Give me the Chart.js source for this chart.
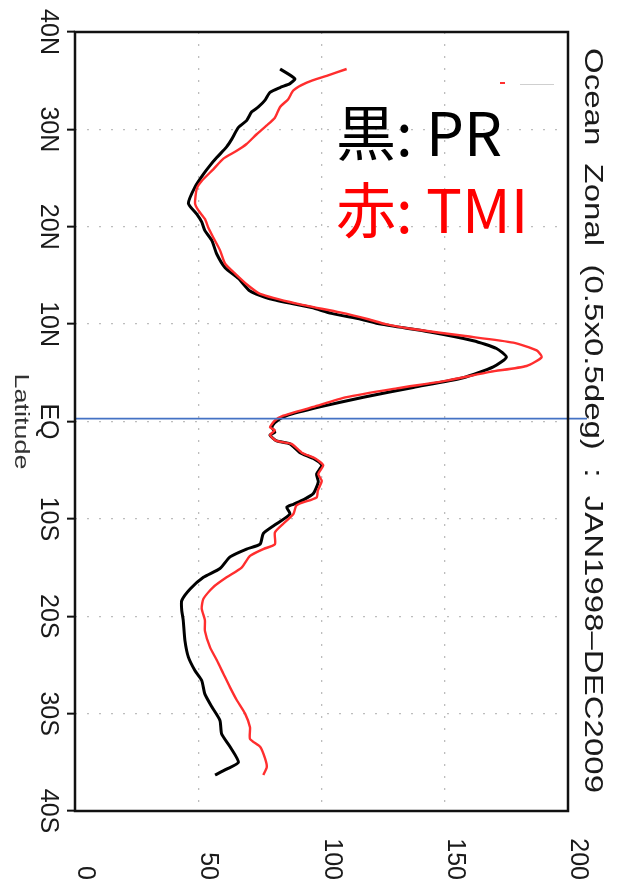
<!DOCTYPE html>
<html>
<head>
<meta charset="utf-8">
<title>Ocean Zonal (0.5x0.5deg) : JAN1998-DEC2009</title>
<script src="https://cdn.jsdelivr.net/npm/chart.js@4.4.0/dist/chart.umd.min.js"></script>
<style>
  html, body { margin: 0; padding: 0; background: #fff; }
  #wrap { position: relative; width: 625px; height: 886px; }
</style>
</head>
<body>
<div id="wrap"><canvas id="c" width="625" height="886"></canvas></div>
<script>
// Latitude axis (vertical) and value axis (horizontal)
const latTicks = [40, 30, 20, 10, 0, -10, -20, -30, -40];
const latTickLabels = ['40N', '30N', '20N', '10N', 'EQ', '10S', '20S', '30S', '40S'];
const valueTicks = [0, 50, 100, 150, 200];
const valueTickLabels = ['0', '50', '100', '150', '200'];

// PR zonal mean (black)
const prLat = [36.2, 35.2, 34.7, 34.3, 33.8, 33.0, 32.3, 31.8, 30.9, 30.2, 29.0, 28.2, 27.1, 26.3, 25.4, 24.1, 22.4, 21.3, 20.5, 19.6,
  18.6, 17.2, 15.8, 14.7, 13.4, 12.6, 11.7, 11.1, 10.5, 10.0, 9.2, 8.3, 7.5, 6.6, 5.6, 4.5, 3.5, 2.5, 1.5, 0.6,
  -0.1, -0.6, -1.1, -1.4, -2.0, -2.3, -3.2, -3.8, -4.5, -5.4, -6.2, -7.4, -8.0, -8.5, -8.8, -9.5, -10.5, -11.5, -12.6, -13.1,
  -13.9, -15.1, -16.0, -17.2, -18.4, -19.4, -20.4, -22.5, -24.2, -25.6, -26.6, -28.0, -29.3, -30.7, -32.1, -33.4, -35.0, -35.7, -36.3];
const prVal = [83.2, 89.2, 87.2, 83.2, 79.1, 77.1, 74.4, 71.7, 69.6, 66.3, 63.6, 61.5, 57.5, 54.8, 52.1, 48.7, 46.0, 49.4, 51.4, 52.7,
  55.5, 57.5, 60.9, 66.3, 71.0, 79.0, 96.0, 104.0, 116.0, 124.0, 144.0, 161.6, 171.0, 175.0, 169.7, 157.5, 137.2, 117.0, 99.4, 85.9,
  81.1, 79.8, 81.1, 79.1, 81.8, 87.2, 91.3, 96.7, 100.1, 98.0, 98.7, 96.7, 93.0, 88.6, 85.9, 87.2, 81.8, 76.4, 75.1, 69.6,
  62.9, 58.8, 52.1, 46.7, 43.3, 43.3, 43.9, 44.6, 46.0, 48.7, 51.4, 52.7, 55.5, 58.8, 59.5, 62.9, 66.3, 61.5, 56.8];

// TMI zonal mean (red)
const tmiLat = [36.2, 35.5, 34.8, 34.0, 33.1, 32.3, 31.2, 30.4, 29.5, 28.5, 27.8, 27.0, 25.9, 24.7, 23.9, 22.4, 21.7, 20.8, 19.9, 18.9,
  17.6, 16.2, 15.2, 14.1, 13.1, 12.1, 11.2, 10.5, 10.0, 9.5, 8.8, 8.1, 7.3, 6.6, 5.7, 5.1, 4.2, 3.4, 2.5, 1.5,
  0.6, 0.1, -0.6, -0.9, -1.4, -2.0, -2.3, -3.2, -3.8, -4.5, -5.4, -6.1, -7.1, -7.8, -8.6, -9.5, -10.5, -11.4, -12.6, -13.1,
  -13.8, -15.0, -16.0, -17.0, -18.2, -19.2, -20.4, -21.5, -23.2, -24.5, -25.9, -27.3, -28.6, -30.0, -31.4, -32.6, -33.4, -34.6, -35.5, -36.3];
const tmiVal = [110.2, 102.1, 94.0, 88.6, 86.5, 83.2, 81.1, 77.8, 73.7, 69.6, 65.6, 60.2, 56.1, 51.4, 49.4, 48.7, 50.0, 52.7, 54.1, 56.1,
  58.8, 60.9, 64.9, 69.6, 75.1, 89.9, 107.5, 119.0, 126.0, 137.0, 157.5, 177.8, 187.3, 189.3, 183.2, 168.4, 150.8, 130.5, 110.2, 96.7,
  84.5, 81.1, 79.1, 81.1, 79.1, 81.8, 87.8, 92.0, 97.5, 100.7, 98.7, 100.1, 98.5, 98.0, 89.9, 88.6, 84.5, 81.1, 81.1, 76.4,
  71.0, 67.6, 61.5, 56.1, 52.1, 51.4, 52.7, 52.7, 54.8, 57.5, 60.2, 62.9, 65.6, 69.0, 71.0, 71.0, 75.1, 77.1, 77.8, 76.4];

const titleText = 'Ocean  Zonal  (0.5x0.5deg)  :  JAN1998\u2013DEC2009';
const latAxisTitle = 'Latitude';
const legendLines = [
  { text: '黒: PR', color: '#000000' },
  { text: '赤: TMI', color: '#ff0000' }
];
const equatorMarkLat = 0.3;

const toPoints = (lats, vals) => lats.map((lat, i) => ({ x: vals[i], y: lat }));

// Text rotated a quarter turn clockwise, baseline at screen x, running down the page
function drawRotated(ctx, text, x, y, align, font, color, lengthFit) {
  ctx.save();
  ctx.translate(x, y);
  ctx.rotate(Math.PI / 2);
  ctx.font = font;
  if (lengthFit) {
    const w = ctx.measureText(text).width;
    ctx.scale(lengthFit / w, 1);
  }
  ctx.fillStyle = color;
  ctx.textAlign = align;
  ctx.textBaseline = 'alphabetic';
  ctx.fillText(text, 0, 0);
  ctx.restore();
}

const decor = {
  id: 'decor',
  afterDatasetsDraw(chart) {
    const { ctx, chartArea: a, scales: { y } } = chart;
    // equator marker line
    const ey = y.getPixelForValue(equatorMarkLat);
    ctx.save();
    ctx.strokeStyle = '#4472c4';
    ctx.lineWidth = 1.6;
    ctx.beginPath();
    ctx.moveTo(a.left, ey);
    ctx.lineTo(a.right + 19, ey);
    ctx.stroke();
    ctx.restore();
  },
  afterDraw(chart) {
    const { ctx, chartArea: a, scales: { x, y } } = chart;
    // plot frame
    ctx.save();
    ctx.strokeStyle = '#111';
    ctx.lineWidth = 2.5;
    ctx.strokeRect(a.left, a.top, a.right - a.left, a.bottom - a.top);
    ctx.restore();

    const tickFont = '25px "Liberation Sans", Arial, sans-serif';
    latTicks.forEach((v, i) => {
      drawRotated(ctx, latTickLabels[i], a.left - 34, y.getPixelForValue(v), 'center', tickFont, '#1a1a1a');
    });
    valueTicks.forEach((v, i) => {
      drawRotated(ctx, valueTickLabels[i], x.getPixelForValue(v) + 3, a.bottom + 69, 'right', tickFont, '#1a1a1a');
    });
    drawRotated(ctx, latAxisTitle, a.left - 60, (a.top + a.bottom) / 2, 'center',
      '21px "Liberation Sans", Arial, sans-serif', '#333', 96);
    drawRotated(ctx, titleText, a.right + 17, a.top + 16, 'left',
      '26px "Liberation Sans", Arial, sans-serif', '#1a1a1a', 745);

    // legend text
    ctx.save();
    ctx.font = '60px "Noto Sans CJK JP", sans-serif';
    ctx.textAlign = 'left';
    ctx.textBaseline = 'alphabetic';
    legendLines.forEach((l, i) => {
      ctx.fillStyle = l.color;
      ctx.fillText(l.text, 336, 156 + i * 77);
    });
    // small leftover marks above the legend
    ctx.fillStyle = '#ff3030';
    ctx.fillRect(500, 82, 5, 2);
    ctx.strokeStyle = '#cfcfcf';
    ctx.lineWidth = 1;
    ctx.beginPath();
    ctx.moveTo(520, 84.5);
    ctx.lineTo(554, 84.5);
    ctx.stroke();
    ctx.restore();
  }
};

new Chart(document.getElementById('c'), {
  type: 'scatter',
  data: {
    datasets: [
      {
        label: 'TMI',
        data: toPoints(tmiLat, tmiVal),
        showLine: true,
        borderColor: '#ff2e2e',
        borderWidth: 2.4,
        pointRadius: 0,
        tension: 0.2
      },
      {
        label: 'PR',
        data: toPoints(prLat, prVal),
        showLine: true,
        borderColor: '#000000',
        borderWidth: 3,
        pointRadius: 0,
        tension: 0.2
      }
    ]
  },
  options: {
    responsive: false,
    animation: false,
    devicePixelRatio: 1,
    layout: { padding: { left: 67, right: 57, top: 32, bottom: 75 } },
    plugins: { legend: { display: false }, tooltip: { enabled: false } },
    scales: {
      x: {
        type: 'linear',
        min: 0, max: 200,
        ticks: { display: false, stepSize: 50 },
        grid: { color: '#bdbdbd', lineWidth: 1.3, drawTicks: false },
        border: { display: false, dash: [2, 10] }
      },
      y: {
        type: 'linear',
        min: -40, max: 40,
        ticks: { display: false, stepSize: 10 },
        grid: { color: '#bdbdbd', lineWidth: 1.3, drawTicks: true, tickLength: 8,
                tickColor: '#111', tickWidth: 2, tickBorderDash: [] },
        border: { display: false, dash: [2, 10] }
      }
    }
  },
  plugins: [decor]
});
</script>
</body>
</html>
